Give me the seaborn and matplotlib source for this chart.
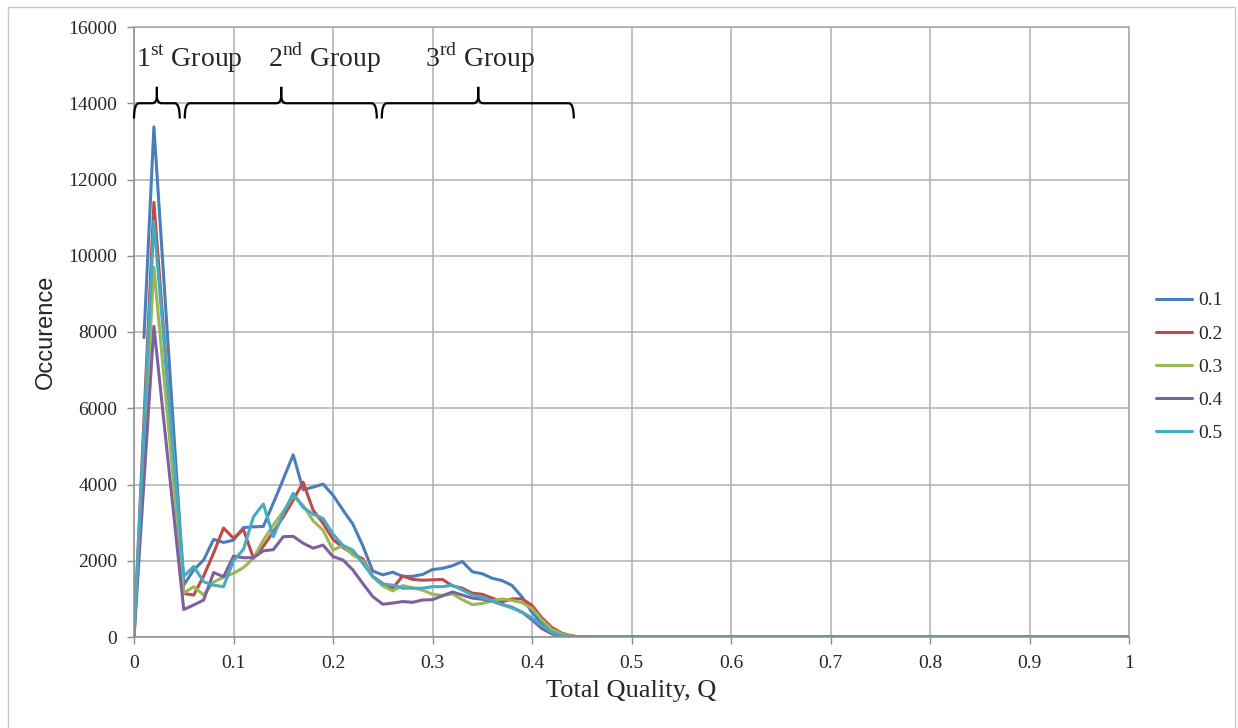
import numpy as np
import pandas as pd
import matplotlib
matplotlib.use('Agg')
import matplotlib.pyplot as plt
import seaborn as sns
from matplotlib.path import Path
from matplotlib.patches import PathPatch, Rectangle

# ---------------------------------------------------------
# 1. data (occurence per total quality bin)
#    bins 0.03 / 0.04 have no point in the original
# ---------------------------------------------------------
nan = np.nan
Q_VALUES = [0.00, 0.01, 0.02] + [round(0.01 * k, 2) for k in range(5, 101)]

# 0.46 .. 1.00 -> every series sits on zero
ZERO_TAIL = [0, 0, 0, 0, 0, 0, 0, 0, 0, 0, 0,
             0, 0, 0, 0, 0, 0, 0, 0, 0, 0, 0,
             0, 0, 0, 0, 0, 0, 0, 0, 0, 0, 0,
             0, 0, 0, 0, 0, 0, 0, 0, 0, 0, 0,
             0, 0, 0, 0, 0, 0, 0, 0, 0, 0, 0]

OCC_01 = [nan, 7850, 13380,
          1360, 1760, 2020, 2560, 2480, 2540, 2870, 2890, 2900, 3510,   # 0.05-0.14
          4140, 4780, 3860, 3930, 4010, 3720, 3330, 2960, 2390, 1730,   # 0.15-0.24
          1630, 1700, 1590, 1590, 1640, 1770, 1800, 1870, 1980, 1710,   # 0.25-0.34
          1660, 1540, 1480, 1350, 1050, 650, 350, 170, 60, 20, 0] + ZERO_TAIL
OCC_02 = [0, nan, 11400,
          1140, 1100, 1600, 2200, 2860, 2590, 2820, 2070, 2380, 2760,
          3150, 3590, 4060, 3330, 2980, 2560, 2350, 2180, 2050, 1590,
          1400, 1280, 1600, 1510, 1490, 1500, 1510, 1340, 1280, 1150,
          1120, 1020, 920, 1000, 1000, 830, 500, 250, 100, 30, 0] + ZERO_TAIL
OCC_03 = [0, nan, 9700,
          1150, 1320, 1100, 1440, 1570, 1670, 1820, 2060, 2540, 2940,
          3290, 3700, 3450, 3050, 2800, 2280, 2400, 2150, 2000, 1580,
          1340, 1210, 1350, 1290, 1230, 1120, 1090, 1130, 980, 850,
          880, 950, 1000, 960, 900, 750, 450, 200, 80, 20, 0] + ZERO_TAIL
OCC_04 = [0, nan, 8150,
          720, 840, 970, 1690, 1580, 2120, 2080, 2080, 2260, 2290,
          2630, 2640, 2460, 2330, 2410, 2110, 2020, 1760, 1400, 1060,
          860, 890, 930, 910, 970, 980, 1080, 1180, 1100, 1020,
          990, 940, 850, 780, 650, 450, 220, 80, 20, 0, 0] + ZERO_TAIL
OCC_05 = [0, nan, 10900,
          1590, 1850, 1450, 1360, 1320, 2000, 2300, 3150, 3490, 2630,
          3240, 3770, 3400, 3220, 3110, 2700, 2400, 2280, 1930, 1580,
          1390, 1360, 1280, 1280, 1280, 1320, 1320, 1360, 1230, 1100,
          1040, 950, 850, 760, 650, 500, 300, 120, 40, 10, 0] + ZERO_TAIL

SERIES_NAMES = ['0.1', '0.2', '0.3', '0.4', '0.5']
SERIES_COLORS = ['#4A7EBB', '#BE4B48', '#98B954', '#7D60A0', '#46AAC5']

X_TICKS = [0, 0.1, 0.2, 0.3, 0.4, 0.5, 0.6, 0.7, 0.8, 0.9, 1]
X_TICK_LABELS = ['0', '0.1', '0.2', '0.3', '0.4', '0.5', '0.6', '0.7', '0.8', '0.9', '1']
Y_TICKS = [0, 2000, 4000, 6000, 8000, 10000, 12000, 14000, 16000]

# group brackets: (left, tip, right) in Q, label, label centre
GROUPS = [(0.0, 0.023, 0.046, r'1$^{\mathrm{st}}$ Group', 0.056),
          (0.051, 0.148, 0.244, r'2$^{\mathrm{nd}}$ Group', 0.192),
          (0.249, 0.346, 0.442, r'3$^{\mathrm{rd}}$ Group', 0.348)]


def brace(ax, x0, xm, x1, y=14000, drop=400, rise=430, dx=0.005, dy=200):
    for a, s in ((x0, 1), (x1, -1)):
        verts = [(a, y - drop), (a, y), (a + s * dx, y),
                 (xm - s * dx, y), (xm, y), (xm, y + dy), (xm, y + rise)]
        codes = [Path.MOVETO, Path.CURVE3, Path.CURVE3,
                 Path.LINETO, Path.CURVE3, Path.CURVE3, Path.LINETO]
        ax.add_patch(PathPatch(Path(verts, codes), fill=False, color='black',
                               lw=1.6, capstyle='butt', zorder=5, clip_on=False))


# ---------------------------------------------------------
# 2. plot
# ---------------------------------------------------------
frames = []
for name, vals in zip(SERIES_NAMES, [OCC_01, OCC_02, OCC_03, OCC_04, OCC_05]):
    frames.append(pd.DataFrame({'Q': Q_VALUES, 'Occurence': vals, 'series': name}))
df = pd.concat(frames, ignore_index=True).dropna()

sns.set_theme(style='whitegrid')
plt.rcParams['font.family'] = ['Liberation Serif', 'DejaVu Serif']
plt.rcParams['mathtext.fontset'] = 'custom'
plt.rcParams['mathtext.rm'] = 'Liberation Serif'

W, H = 1238, 728
fig = plt.figure(figsize=(W / 100, H / 100), dpi=100)
fig.patch.set_facecolor('white')
ax = fig.add_axes([134 / W, 1 - 637 / H, (1129 - 134) / W, (637 - 27) / H])

sns.lineplot(data=df, x='Q', y='Occurence', hue='series', hue_order=SERIES_NAMES,
             palette=SERIES_COLORS, estimator=None, sort=False, lw=2.2, ax=ax)

ax.set_xlim(0, 1)
ax.set_ylim(0, 16000)
ax.set_xticks(X_TICKS)
ax.set_xticklabels(X_TICK_LABELS)
ax.set_yticks(Y_TICKS)
ax.set_yticklabels([str(v) for v in Y_TICKS])
ax.grid(True, color='#b0b0b0', lw=1.1)
ax.set_axisbelow(True)
for sp in ax.spines.values():
    sp.set_visible(True)
    sp.set_color('#a8a8a8')
    sp.set_linewidth(1.1)
ax.spines['left'].set_color('#8c8c8c')
ax.spines['bottom'].set_color('#8c8c8c')
ax.tick_params(axis='both', which='major', length=5, width=1, color='#8c8c8c',
               direction='out', labelsize=14, bottom=True, left=True)
ax.tick_params(axis='y', pad=7)
ax.tick_params(axis='x', pad=8)

ax.set_xlabel('Total Quality, Q', fontsize=19, labelpad=6)
ax.set_ylabel('Occurence', fontsize=17, labelpad=8,
              family=['Liberation Sans Narrow', 'Liberation Sans', 'DejaVu Sans'])

# group brackets and labels
for x0, xm, x1, label, xt in GROUPS:
    brace(ax, x0, xm, x1)
    ax.text(xt, 14950, label, ha='center', va='baseline', fontsize=20, zorder=6)

# legend on the right, no frame
handles, labels = ax.get_legend_handles_labels()
ax.get_legend().remove()
fig.legend(handles, labels, loc='center left', bbox_to_anchor=(1156 / W, 1 - 367 / H),
           frameon=False, fontsize=14, handlelength=1.85, handletextpad=0.3,
           labelspacing=0.8, borderpad=0, borderaxespad=0)

# thin outer border like the source screenshot
fig.add_artist(Rectangle((8 / W, -0.01), (1235 - 8) / W, 1.01 - 7 / H,
                         transform=fig.transFigure, fill=False,
                         edgecolor='#c8c8c8', lw=1))

fig.savefig('out.png', dpi=100)
